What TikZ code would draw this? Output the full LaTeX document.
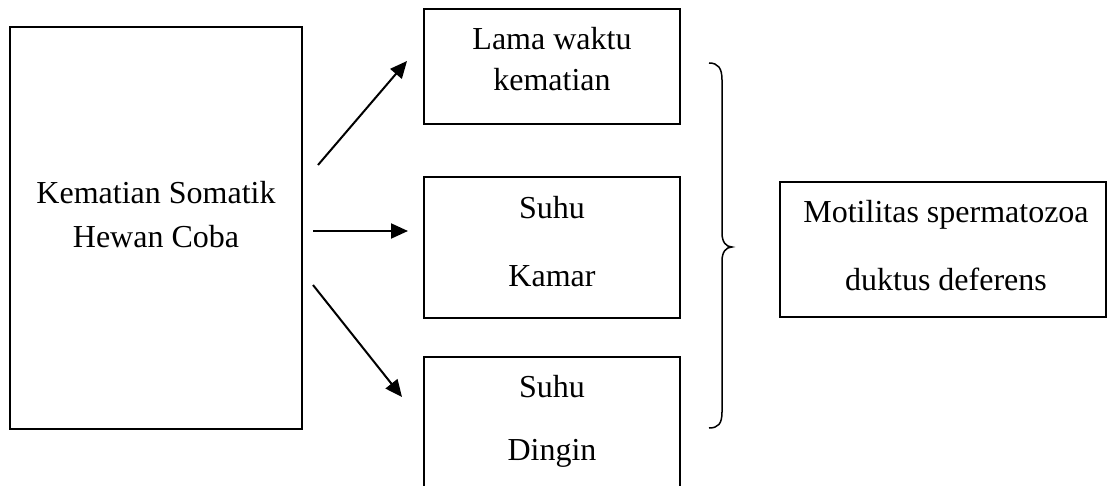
\documentclass[tikz,border=0pt]{standalone}
\usepackage{fontspec}
\setmainfont{Liberation Serif}
\usetikzlibrary{arrows.meta}
\begin{document}
\begin{tikzpicture}[x=1pt,y=-1pt,
  box/.style={draw=black,line width=1.8pt,inner sep=0pt,outer sep=0pt},
  txt/.style={align=center,inner sep=0pt,font=\fontsize{32}{44}\selectfont},
  arr/.style={line width=2pt,-{Triangle[length=17pt,width=15pt]}}]
\useasboundingbox (0,0) rectangle (1107,486);
% boxes
\node[box,minimum width=292pt,minimum height=402pt] (A) at (156,228) {};
\node[txt] (At) at (156,215) {Kematian Somatik\\Hewan Coba};
\node[box,minimum width=256pt,minimum height=115pt] (B) at (552,66.5) {};
\node[txt,font=\fontsize{32}{41}\selectfont] (Bt) at (552,59) {Lama waktu\\kematian};
\node[box,minimum width=256pt,minimum height=141pt] (C) at (552,247.5) {};
\node[txt] (Ct) at (552,241.5) {Suhu\\[24pt]Kamar};
\node[inner sep=0pt,outer sep=0pt,minimum width=256pt,minimum height=140pt] (D) at (552,427) {};
\draw[line width=1.8pt] (D.south west) -- (D.north west) -- (D.north east) -- (D.south east);
\node[txt] (Dt) at (552,421) {Suhu\\[19pt]Dingin};
\node[box,minimum width=326pt,minimum height=135pt] (E) at (943,249.5) {};
\node[txt] (Et) at (946,246) {Motilitas spermatozoa\\[24pt]duktus deferens};
% arrows
\coordinate (a1s) at (318,165); \coordinate (a1e) at (407,61);
\coordinate (a2s) at (313,231); \coordinate (a2e) at (408,231);
\coordinate (a3s) at (313,285); \coordinate (a3e) at (402,397);
\draw[arr] (a1s) -- (a1e);
\draw[arr] (a2s) -- (a2e);
\draw[arr] (a3s) -- (a3e);
% brace
\draw[line width=1.5pt] (709,63) .. controls (718,63) and (722,68) .. (722,80) -- (722,233)
  .. controls (722,242) and (726,247) .. (732,247)
  .. controls (726,247) and (722,252) .. (722,261) -- (722,412)
  .. controls (722,424) and (718,428) .. (709,428);
\end{tikzpicture}
\end{document}
